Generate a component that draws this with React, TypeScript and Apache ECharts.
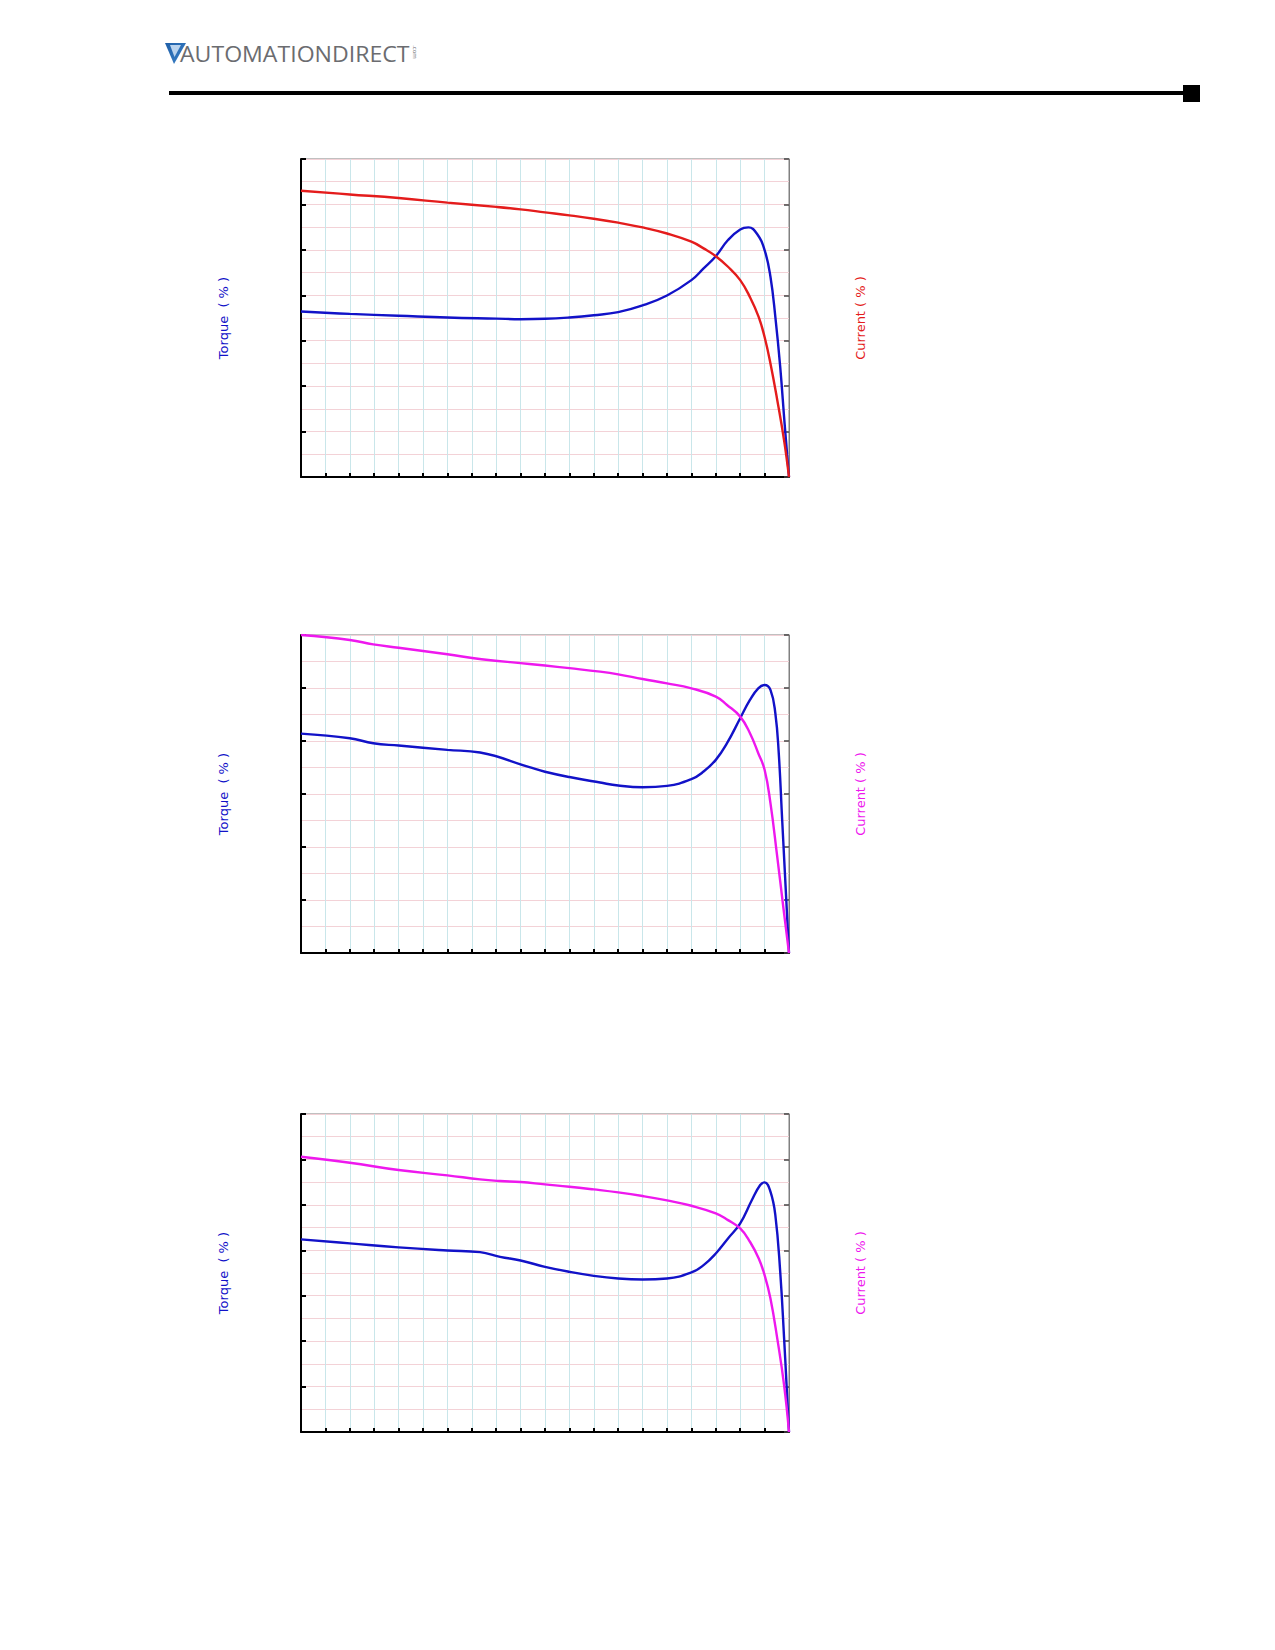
import React, { useEffect, useRef } from "react";
import * as echarts from "echarts";

// ---- Chart 1 (torque blue, current red) ----
const torque1Speed = [0, 10, 20, 30, 40, 45, 50, 55, 60, 65, 70, 75, 80, 82.5, 85, 87.5, 90, 91.7, 93.4, 95, 96.2, 97.2, 98.2, 99.1, 100];
const torque1Value = [182.2, 179.5, 177.5, 175.5, 174.3, 173.7, 174.1, 175.6, 178, 181.4, 188.8, 199.8, 216.7, 229.6, 243, 260.8, 272.5, 274.7, 268, 249.8, 220.4, 176.3, 121.2, 58.8, 0];
const current1Speed = [0, 10, 20, 30, 40, 45, 50, 55, 60, 65, 70, 75, 80, 82.5, 85, 87.5, 90, 92, 93.8, 95, 96.2, 97.6, 99, 100];
const current1Value = [315, 311, 307, 302, 297.3, 294.6, 291.3, 288, 284.3, 279.9, 274.7, 268, 259, 251.6, 243, 231.4, 216.7, 198, 176, 154, 125, 84.5, 40, 0];

// ---- Chart 2 (torque blue, current magenta) ----
const torque2Speed = [0, 10, 14.8, 20, 30, 36.7, 46.8, 50, 55, 61.3, 65, 70, 75, 80, 82.5, 85, 87.3, 90, 92, 93.7, 95, 96.2, 97.2, 97.9, 98.6, 99.3, 100];
const torque2Value = [207, 202.6, 197.9, 195.7, 191.6, 189.1, 175.3, 171, 166, 160.8, 158, 156.4, 157.7, 164, 171.2, 182.2, 197.9, 221.5, 238.7, 249.7, 252.9, 248.2, 226.2, 188.5, 125.7, 62.8, 0];
const current2Speed = [0, 10, 14.8, 20, 30, 37, 46.8, 50, 55, 61.3, 65, 70, 75, 80, 85, 87.3, 90, 92, 93.7, 95, 96.2, 97.5, 98.9, 100];
const current2Value = [300, 295.3, 291.2, 288, 281.8, 277.1, 272.7, 271.2, 268.7, 265.4, 262.9, 258.5, 254.4, 249.7, 241.9, 234, 223, 207.3, 188.5, 172.8, 141.4, 94.2, 40.8, 0];

// ---- Chart 3 (torque blue, current magenta) ----
const torque3Speed = [0, 10, 20, 30, 36.7, 40.8, 45, 50, 55, 60, 65, 70, 75, 80, 82.5, 85, 87.5, 90, 92.4, 94.1, 95, 96.2, 97.2, 98.2, 99, 100];
const torque3Value = [212, 207.6, 203.2, 199.8, 198, 192.8, 188.8, 181.8, 176.3, 171.9, 169, 167.9, 169, 175.6, 183.7, 196.5, 213, 229.6, 255.3, 271.8, 274.7, 264.5, 238.8, 176.3, 102.8, 0];
const current3Speed = [0, 10, 20, 30, 36.7, 40.8, 45, 50, 55, 60, 65, 70, 75, 80, 85, 87.5, 90, 92, 93.8, 95, 96.2, 97.6, 99, 100];
const current3Value = [303, 296.4, 288.3, 282.5, 278, 276.2, 275.1, 272.5, 270, 267, 263.7, 259.7, 254.9, 249, 240.6, 233.2, 224, 209.4, 191, 172.6, 147, 102.8, 51.4, 0];

const yMaxima = [350, 300, 350];
const torqueLabel = "Torque  ( % )";
const currentLabel = "Current ( % )";
const logoText = "AUTOMATIONDIRECT";

const BLUE = "#1212c8";
const RED = "#e41c1c";
const MAGENTA = "#ee18ee";
const FONT = "DejaVu Sans";

const zip = (xs: number[], ys: number[]) => xs.map((x, i) => [x, ys[i]]);

export default function App() {
  const ref = useRef<HTMLDivElement>(null);

  useEffect(() => {
    if (!ref.current) return;
    const chart = echarts.init(ref.current, undefined, { renderer: "svg" });

    const tops = [159, 635, 1114];
    const gridLeft = 301;
    const gridW = 488;
    const gridH = 318;

    const grids = tops.map((t) => ({
      left: gridLeft,
      top: t,
      width: gridW,
      height: gridH,
      show: true,
      borderColor: "#808080",
      borderWidth: 1,
      backgroundColor: "transparent",
    }));

    const xAxes = tops.map((_, i) => ({
      gridIndex: i,
      type: "value",
      min: 0,
      max: 100,
      interval: 5,
      axisLine: { show: true, onZero: false, lineStyle: { color: "#000", width: 2 } },
      axisTick: { show: true, inside: true, length: 4, lineStyle: { color: "#000", width: 2 } },
      axisLabel: { show: false },
      splitLine: { show: true, lineStyle: { color: "#c9e6ea", width: 1 } },
    }));

    const yAxes: any[] = [];
    tops.forEach((_, i) => {
      yAxes.push({
        gridIndex: i,
        type: "value",
        position: "left",
        min: 0,
        max: yMaxima[i],
        interval: 50,
        axisLine: { show: true, onZero: false, lineStyle: { color: "#000", width: 2 } },
        axisTick: { show: true, inside: true, length: 5, lineStyle: { color: "#000", width: 2 } },
        axisLabel: { show: false },
        splitLine: { show: true, lineStyle: { color: "#f3d2d7", width: 1 } },
        minorTick: { show: false, splitNumber: 2 },
        minorSplitLine: { show: true, lineStyle: { color: "#f3d2d7", width: 1 } },
      });
      yAxes.push({
        gridIndex: i,
        type: "value",
        position: "right",
        min: 0,
        max: yMaxima[i],
        interval: 50,
        axisLine: { show: true, onZero: false, lineStyle: { color: "#808080", width: 1 } },
        axisTick: { show: true, inside: true, length: 5, lineStyle: { color: "#444", width: 1.5 } },
        axisLabel: { show: false },
        splitLine: { show: false },
      });
    });

    const curves = [
      { x: torque1Speed, y: torque1Value, color: BLUE, grid: 0, yi: 0 },
      { x: current1Speed, y: current1Value, color: RED, grid: 0, yi: 1 },
      { x: torque2Speed, y: torque2Value, color: BLUE, grid: 1, yi: 2 },
      { x: current2Speed, y: current2Value, color: MAGENTA, grid: 1, yi: 3 },
      { x: torque3Speed, y: torque3Value, color: BLUE, grid: 2, yi: 4 },
      { x: current3Speed, y: current3Value, color: MAGENTA, grid: 2, yi: 5 },
    ];

    const series = curves.map((c) => ({
      type: "line",
      xAxisIndex: c.grid,
      yAxisIndex: c.yi,
      data: zip(c.x, c.y),
      showSymbol: false,
      symbol: "none",
      smooth: 0.45,
      lineStyle: { color: c.color, width: 2.4 },
      z: 5,
    }));

    const currentColors = [RED, MAGENTA, MAGENTA];
    const labelGraphics: any[] = [];
    tops.forEach((t, i) => {
      const cy = t + gridH / 2;
      labelGraphics.push({
        type: "text",
        x: 223,
        y: cy,
        rotation: Math.PI / 2,
        style: {
          text: torqueLabel,
          fill: BLUE,
          font: `13px "${FONT}"`,
          align: "center",
          verticalAlign: "middle",
        },
      });
      labelGraphics.push({
        type: "text",
        x: 860,
        y: cy,
        rotation: Math.PI / 2,
        style: {
          text: currentLabel,
          fill: currentColors[i],
          font: `13px "${FONT}"`,
          align: "center",
          verticalAlign: "middle",
        },
      });
    });

    const headerGraphics: any[] = [
      {
        type: "polygon",
        shape: { points: [[165, 43], [186, 43], [174, 64]] },
        style: {
          fill: new echarts.graphic.LinearGradient(0, 0, 1, 1, [
            { offset: 0, color: "#1f5fa8" },
            { offset: 1, color: "#3b82c8" },
          ]),
        },
      },
      {
        type: "polygon",
        shape: { points: [[170, 45], [181, 45], [174.5, 57]] },
        style: { fill: "#b9d3ee" },
      },
      {
        type: "text",
        x: 180,
        y: 53,
        scaleX: 1.1,
        style: {
          text: logoText,
          fill: "#6b6c70",
          font: `21px "Open Sans"`,
          align: "left",
          verticalAlign: "middle",
        },
      },
      {
        type: "text",
        x: 415,
        y: 52,
        rotation: -Math.PI / 2,
        style: {
          text: ".com",
          fill: "#6b6c70",
          font: `6px "Open Sans"`,
          align: "center",
          verticalAlign: "middle",
        },
      },
      {
        type: "line",
        shape: { x1: 169, y1: 93, x2: 1190, y2: 93 },
        style: { stroke: "#000", lineWidth: 4 },
      },
      {
        type: "rect",
        shape: { x: 1183, y: 85, width: 17, height: 17 },
        style: { fill: "#000" },
      },
    ];

    chart.setOption({
      animation: false,
      backgroundColor: "#fff",
      grid: grids,
      xAxis: xAxes,
      yAxis: yAxes,
      series,
      graphic: [...headerGraphics, ...labelGraphics],
    } as any);

    return () => chart.dispose();
  }, []);

  return (
    <div
      ref={ref}
      style={{ position: "absolute", left: 0, top: 0, width: 1275, height: 1650, background: "#fff" }}
    />
  );
}
